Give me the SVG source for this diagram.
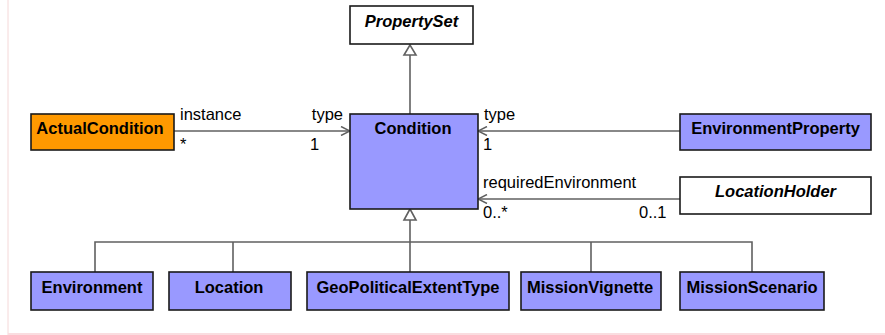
<svg xmlns="http://www.w3.org/2000/svg" width="885" height="335" viewBox="0 0 885 335">
<style>
.box{stroke:#1a1a1a;stroke-width:1.6}
.blue{fill:#9999ff}
.orange{fill:#ff9900}
.white{fill:#ffffff}
.name{font-family:"Liberation Sans",Arial,sans-serif;font-size:16.5px;font-weight:bold;fill:#000;text-anchor:middle}
.abs{font-style:italic}
.lbl{font-family:"Liberation Sans",Arial,sans-serif;font-size:16.5px;fill:#000}
.ln{stroke:#606060;stroke-width:1.6;fill:none}
.tri{stroke:#606060;stroke-width:1.6;fill:#fff}
</style>
<defs>
<marker id="open" viewBox="0 0 10 10" refX="10" refY="5" markerWidth="10" markerHeight="10" markerUnits="userSpaceOnUse" orient="auto">
<path d="M1,0.5 L10,5 L1,9.5" fill="none" stroke="#606060" stroke-width="1.5"/>
</marker>
</defs>
<rect x="0" y="0" width="885" height="335" fill="#fff"/>
<line x1="8" y1="0" x2="8" y2="335" stroke="#f5d8d8" stroke-width="1"/>
<rect x="8" y="333" width="877" height="2" fill="#fadde0"/>

<g id="connectors">
<line class="ln" x1="410" y1="55" x2="410" y2="114"/>
<polygon class="tri" points="410,45 404,55 416,55"/>
<line class="ln" x1="174" y1="131" x2="350" y2="131" marker-end="url(#open)"/>
<line class="ln" x1="680" y1="131" x2="478" y2="131" marker-end="url(#open)"/>
<line class="ln" x1="680" y1="199" x2="478" y2="199" marker-end="url(#open)"/>
<polyline class="ln" points="95,272 95,242 752,242 752,272"/>
<line class="ln" x1="233" y1="242" x2="233" y2="272"/>
<line class="ln" x1="591" y1="242" x2="591" y2="272"/>
<line class="ln" x1="410" y1="220" x2="410" y2="272"/>
<polygon class="tri" points="410,209 404,220 416,220"/>
<text class="lbl" x="180" y="120">instance</text>
<text class="lbl" x="343" y="120" text-anchor="end">type</text>
<text class="lbl" x="180" y="150">*</text>
<text class="lbl" x="310" y="150">1</text>
<text class="lbl" x="484" y="120">type</text>
<text class="lbl" x="483" y="150">1</text>
<text class="lbl" x="483" y="188">requiredEnvironment</text>
<text class="lbl" x="483" y="218">0..*</text>
<text class="lbl" x="639" y="218">0..1</text>
</g>

<g id="PropertySet"><rect class="box white" x="350" y="6" width="123" height="38"/><text class="name abs" x="411.5" y="27">PropertySet</text></g>
<g id="ActualCondition"><rect class="box orange" x="31" y="114" width="143" height="36"/><text class="name" x="100" y="134">ActualCondition</text></g>
<g id="Condition"><rect class="box blue" x="350" y="114" width="128" height="95"/><text class="name" x="413" y="134">Condition</text></g>
<g id="EnvironmentProperty"><rect class="box blue" x="680" y="114" width="191" height="36"/><text class="name" x="775.5" y="134">EnvironmentProperty</text></g>
<g id="LocationHolder"><rect class="box white" x="680" y="177" width="191" height="37"/><text class="name abs" x="775.5" y="197">LocationHolder</text></g>
<g id="Environment"><rect class="box blue" x="31" y="272" width="122" height="38"/><text class="name" x="92" y="293">Environment</text></g>
<g id="Location"><rect class="box blue" x="169" y="272" width="122" height="38"/><text class="name" x="229" y="293">Location</text></g>
<g id="GeoPoliticalExtentType"><rect class="box blue" x="307" y="272" width="202" height="38"/><text class="name" x="408" y="293">GeoPoliticalExtentType</text></g>
<g id="MissionVignette"><rect class="box blue" x="521" y="272" width="140" height="38"/><text class="name" x="590" y="293">MissionVignette</text></g>
<g id="MissionScenario"><rect class="box blue" x="680" y="272" width="144" height="38"/><text class="name" x="752" y="293">MissionScenario</text></g>
</svg>
